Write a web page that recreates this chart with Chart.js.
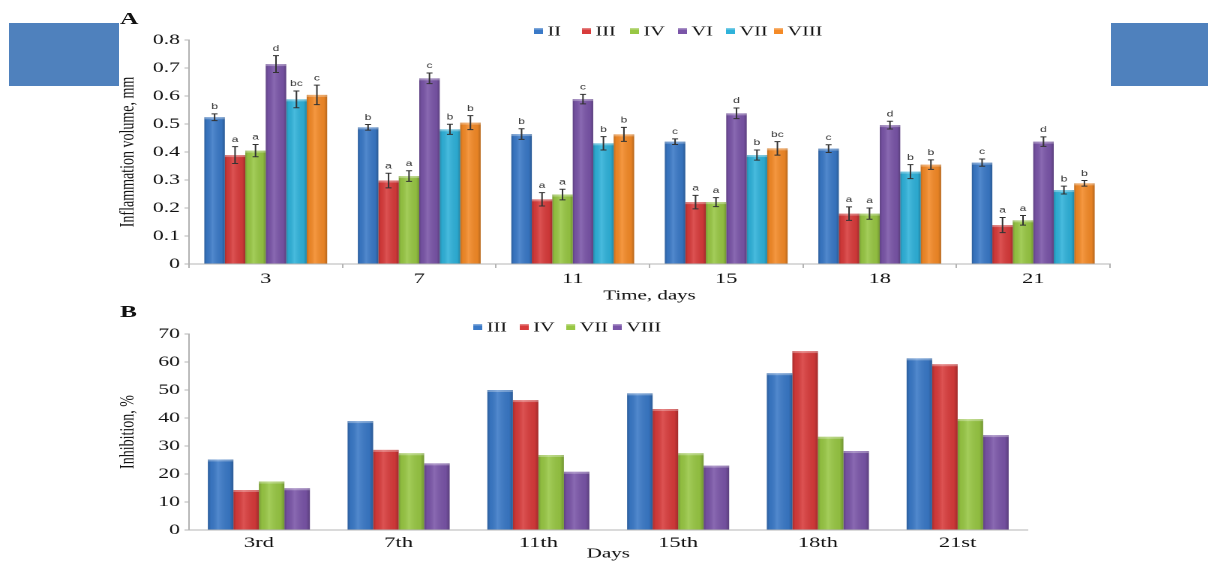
<!DOCTYPE html>
<html lang="en">
<head>
    <meta charset="UTF-8">
    <title>Inflammation volume and inhibition</title>
    <style>
        html, body {
            margin: 0;
            padding: 0;
            width: 1208px;
            height: 562px;
            overflow: hidden;
            background: #fff;
        }
        /* the source figure is stretched sideways, so draw narrow and stretch */
        #wrap {
            position: absolute;
            left: 0;
            top: 0;
            width: 806px;
            height: 562px;
            transform: scaleX(1.5);
            transform-origin: 0 0;
        }
        #chartA { position: absolute; left: 0; top: 0; }
        #chartB { position: absolute; left: 0; top: 300px; }
        .panel {
            position: absolute;
            font: bold 17px "Liberation Serif", serif;
            line-height: 1;
            color: #111;
        }
        .block {
            position: absolute;
            background: #4f81bd;
            top: 23px;
            height: 63px;
        }
    </style>
    <script src="https://cdn.jsdelivr.net/npm/chart.js"></script>
</head>
<body>
    <div id="wrap">
        <canvas id="chartA" width="806" height="305"></canvas>
        <canvas id="chartB" width="806" height="270"></canvas>
        <div class="panel" style="left:80px; top:10px;">A</div>
        <div class="panel" style="left:80px; top:303px;">B</div>
    </div>
    <div class="block" style="left:9px; width:110px;"></div>
    <div class="block" style="left:1111px; width:97px;"></div>

    <script>
        // ---- panel A: inflammation volume, mm ----
        const days = ['3', '7', '11', '15', '18', '21'];
        const volII   = [0.524, 0.488, 0.464, 0.437, 0.412, 0.362];
        const volIII  = [0.389, 0.298, 0.231, 0.221, 0.180, 0.139];
        const volIV   = [0.405, 0.314, 0.248, 0.221, 0.180, 0.156];
        const volVI   = [0.714, 0.663, 0.589, 0.538, 0.496, 0.437];
        const volVII  = [0.588, 0.481, 0.431, 0.389, 0.330, 0.264];
        const volVIII = [0.604, 0.505, 0.463, 0.413, 0.355, 0.288];

        const errII   = [0.012, 0.010, 0.019, 0.010, 0.014, 0.013];
        const errIII  = [0.030, 0.026, 0.024, 0.024, 0.024, 0.027];
        const errIV   = [0.022, 0.019, 0.019, 0.016, 0.020, 0.017];
        const errVI   = [0.030, 0.019, 0.017, 0.019, 0.014, 0.017];
        const errVII  = [0.030, 0.018, 0.024, 0.018, 0.025, 0.014];
        const errVIII = [0.035, 0.025, 0.025, 0.024, 0.017, 0.010];

        const sigII   = ['b', 'b', 'b', 'c', 'c', 'c'];
        const sigIII  = ['a', 'a', 'a', 'a', 'a', 'a'];
        const sigIV   = ['a', 'a', 'a', 'a', 'a', 'a'];
        const sigVI   = ['d', 'c', 'c', 'd', 'd', 'd'];
        const sigVII  = ['bc', 'b', 'b', 'b', 'b', 'b'];
        const sigVIII = ['c', 'b', 'b', 'bc', 'b', 'b'];

        // ---- panel B: inhibition, % ----
        const daysB = ['3rd', '7th', '11th', '15th', '18th', '21st'];
        const inhIII  = [25.2, 38.9, 50.0, 48.8, 56.0, 61.3];
        const inhIV   = [14.3, 28.6, 46.4, 43.2, 63.9, 59.2];
        const inhVII  = [17.3, 27.4, 26.8, 27.4, 33.3, 39.6];
        const inhVIII = [14.9, 23.8, 20.8, 23.0, 28.2, 33.9];

        const BLUE = '#3a79c7', RED = '#d83b3b', GREEN = '#98c744',
              PURPLE = '#7a55a8', CYAN = '#2fb2da', ORANGE = '#f48a27';

        const serif = 'Liberation Serif';
        const axisGray = '#b4b4b4';
        const ink = '#111';

        // cylinder-like shading over every bar
        const shadePlugin = {
            id: 'shade',
            afterDatasetsDraw(chart) {
                const ctx = chart.ctx;
                ctx.save();
                chart.data.datasets.forEach((ds, i) => {
                    chart.getDatasetMeta(i).data.forEach(bar => {
                        const l = bar.x - bar.width / 2;
                        const w = bar.width;
                        const h = bar.base - bar.y;
                        const g = ctx.createLinearGradient(l, 0, l + w, 0);
                        g.addColorStop(0, 'rgba(0,0,0,0.22)');
                        g.addColorStop(0.12, 'rgba(0,0,0,0.05)');
                        g.addColorStop(0.4, 'rgba(255,255,255,0.12)');
                        g.addColorStop(0.85, 'rgba(0,0,0,0.06)');
                        g.addColorStop(1, 'rgba(0,0,0,0.25)');
                        ctx.fillStyle = g;
                        ctx.fillRect(l, bar.y, w, h);
                        ctx.fillStyle = 'rgba(255,255,255,0.3)';
                        ctx.fillRect(l, bar.y, w, 2);
                    });
                });
                ctx.restore();
            }
        };

        // error bars and significance letters (panel A)
        const errorPlugin = {
            id: 'errbars',
            afterDatasetsDraw(chart) {
                const ctx = chart.ctx;
                const y = chart.scales.y;
                ctx.save();
                ctx.strokeStyle = '#333';
                ctx.lineWidth = 1;
                ctx.fillStyle = '#333';
                ctx.font = '8px "Liberation Sans"';
                ctx.textAlign = 'center';
                ctx.textBaseline = 'bottom';
                chart.data.datasets.forEach((ds, i) => {
                    if (!ds.err) return;
                    chart.getDatasetMeta(i).data.forEach((bar, j) => {
                        const v = ds.data[j], e = ds.err[j];
                        const top = y.getPixelForValue(v + e);
                        const bot = y.getPixelForValue(v - e);
                        const x = bar.x;
                        ctx.beginPath();
                        ctx.moveTo(x, top); ctx.lineTo(x, bot);
                        ctx.moveTo(x - 2, top); ctx.lineTo(x + 2, top);
                        ctx.moveTo(x - 2, bot); ctx.lineTo(x + 2, bot);
                        ctx.stroke();
                        ctx.fillText(ds.sig[j], x, top - 3);
                    });
                });
                ctx.restore();
            }
        };

        // legend row above the plot
        const keyPlugin = {
            id: 'key',
            afterDraw(chart, args, opts) {
                const ctx = chart.ctx;
                ctx.save();
                ctx.font = '13.5px "' + serif + '"';
                ctx.textBaseline = 'middle';
                let x = opts.x0;
                chart.data.datasets.forEach(ds => {
                    ctx.fillStyle = ds.backgroundColor;
                    ctx.fillRect(x, opts.y - 3, 6, 6);
                    ctx.fillStyle = 'rgba(255,255,255,0.35)';
                    ctx.fillRect(x, opts.y - 3, 6, 1.5);
                    ctx.fillStyle = ink;
                    ctx.fillText(ds.label, x + 9, opts.y + 1);
                    x += opts.step;
                });
                ctx.restore();
            }
        };

        function bars(label, data, color, err, sig) {
            return { label: label, data: data, backgroundColor: color, borderWidth: 0,
                     err: err, sig: sig };
        }

        new Chart(document.getElementById('chartA'), {
            type: 'bar',
            data: {
                labels: days,
                datasets: [
                    bars('II', volII, BLUE, errII, sigII),
                    bars('III', volIII, RED, errIII, sigIII),
                    bars('IV', volIV, GREEN, errIV, sigIV),
                    bars('VI', volVI, PURPLE, errVI, sigVI),
                    bars('VII', volVII, CYAN, errVII, sigVII),
                    bars('VIII', volVIII, ORANGE, errVIII, sigVIII)
                ]
            },
            options: {
                responsive: false,
                animation: false,
                devicePixelRatio: 2,
                datasets: { bar: { categoryPercentage: 0.8, barPercentage: 1.0 } },
                layout: { padding: { top: 40, left: 77, right: 66, bottom: 0 } },
                plugins: {
                    legend: { display: false },
                    tooltip: { enabled: false },
                    key: { x0: 356, y: 31, step: 32 }
                },
                scales: {
                    x: {
                        grid: { display: true, drawOnChartArea: false, offset: true, tickLength: 4, color: axisGray },
                        border: { color: axisGray },
                        ticks: { font: { family: serif, size: 15 }, color: ink, padding: 2 },
                        title: { display: true, text: 'Time, days', font: { family: serif, size: 14 },
                                 color: ink, padding: { top: 0, bottom: 1 } },
                        afterFit(s) { s.height = 41; }
                    },
                    y: {
                        min: 0, max: 0.8,
                        grid: { display: true, drawOnChartArea: false, tickLength: 3, color: axisGray },
                        border: { color: axisGray },
                        ticks: { stepSize: 0.1, font: { family: serif, size: 14.5 }, color: ink, padding: 3 },
                        title: { display: true, text: 'Inflammation volume, mm', font: { family: serif, size: 14 },
                                 color: ink, padding: 0 },
                        afterFit(s) { s.width = 49; }
                    }
                }
            },
            plugins: [shadePlugin, errorPlugin, keyPlugin]
        });

        new Chart(document.getElementById('chartB'), {
            type: 'bar',
            data: {
                labels: daysB,
                datasets: [
                    bars('III', inhIII, BLUE),
                    bars('IV', inhIV, RED),
                    bars('VII', inhVII, GREEN),
                    bars('VIII', inhVIII, PURPLE)
                ]
            },
            options: {
                responsive: false,
                animation: false,
                devicePixelRatio: 2,
                datasets: { bar: { categoryPercentage: 0.73, barPercentage: 1.0 } },
                layout: { padding: { top: 34, left: 77, right: 121, bottom: 0 } },
                plugins: {
                    legend: { display: false },
                    tooltip: { enabled: false },
                    key: { x0: 315.5, y: 27, step: 31 }
                },
                scales: {
                    x: {
                        grid: { display: true, drawOnChartArea: false, drawTicks: false, color: axisGray },
                        border: { color: axisGray },
                        ticks: { font: { family: serif, size: 15 }, color: ink, padding: 4 },
                        title: { display: true, text: 'Days', font: { family: serif, size: 14 },
                                 color: ink, padding: { top: 0, bottom: 8 } },
                        afterFit(s) { s.height = 40; }
                    },
                    y: {
                        min: 0, max: 70,
                        grid: { display: true, drawOnChartArea: false, tickLength: 3, color: axisGray },
                        border: { color: axisGray },
                        ticks: { stepSize: 10, font: { family: serif, size: 14.5 }, color: ink, padding: 3 },
                        title: { display: true, text: 'Inhibition, %', font: { family: serif, size: 14 },
                                 color: ink, padding: 0 },
                        afterFit(s) { s.width = 49; }
                    }
                }
            },
            plugins: [shadePlugin, keyPlugin]
        });
    </script>
</body>
</html>
